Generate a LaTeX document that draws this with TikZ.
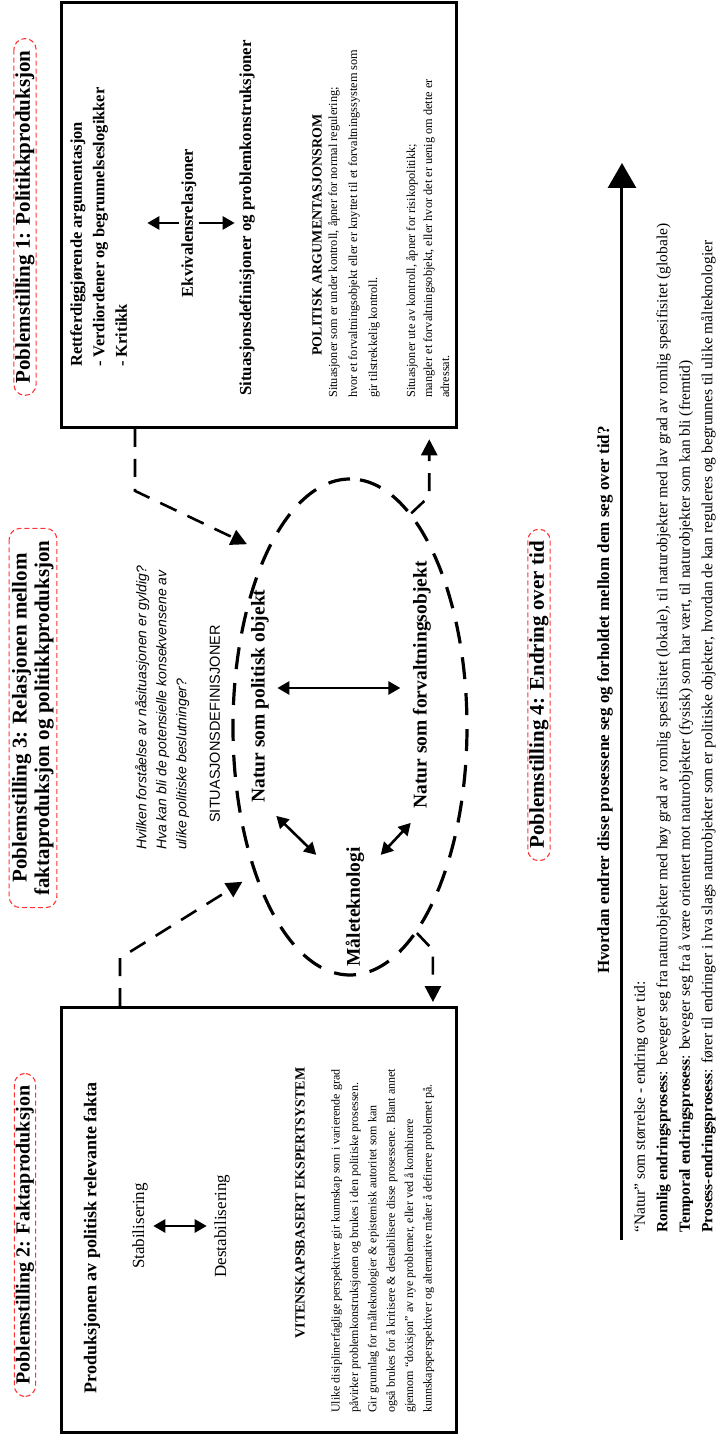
\documentclass[tikz,border=0pt]{standalone}
\usepackage{fontspec}
\setmainfont{Liberation Serif}
\setsansfont{Liberation Sans}
\usetikzlibrary{arrows.meta,shapes.geometric}

\begin{document}
\begin{tikzpicture}[x=1pt, y=1pt, rotate=90, transform shape,
  box/.style={draw, line width=2.8pt, minimum width=425pt, minimum height=395pt},
  lab/.style={draw=red!80!white, dash pattern=on 5pt off 3pt, line width=1.1pt, rounded corners=11pt,
    inner xsep=12pt, inner ysep=1.5pt, font=\bfseries\fontsize{21}{22.5}\selectfont},
  ring/.style={ellipse, draw, line width=3.2pt, dash pattern=on 22pt off 14pt, inner sep=0pt},
  link/.style={line width=2.6pt, dash pattern=on 18pt off 12pt, -{Triangle[length=16pt,width=16pt]}},
  tip/.style={line width=2.6pt, -{Triangle[length=12pt,width=13pt]}},
  dblarrow/.style={line width=2.6pt, {Triangle[length=12pt,width=13pt]}-{Triangle[length=12pt,width=13pt]}},
  txt/.style={font=\fontsize{#1}{#1}\selectfont},
  btxt/.style={font=\bfseries\fontsize{#1}{#1}\selectfont}]
\useasboundingbox (0,0) rectangle (1435,717);

% the two boxes
\node[box] (fakta) at (215,458) {};
\node[box] (pol) at (1220,458) {};

% problem statements
\node[lab] (lab1) at (1218,692) {Poblemstilling 1: Politikkproduksjon};
\node[lab, font=\bfseries\fontsize{20}{22}\selectfont] (lab2) at (200,692) {Poblemstilling 2: Faktaproduksjon};
\node[lab, align=center, inner ysep=3pt] (lab3) at (717,684) {Poblemstilling 3: Relasjonen mellom\\faktaproduksjon og politikkproduksjon};
\node[lab] (lab4) at (740,178) {Poblemstilling 4: Endring over tid};

% faktaproduksjon
\node[btxt=18, anchor=west] (prod) at (38,625) {Produksjonen av politisk relevante fakta};
\node[txt=17] (stab) at (209,577) {Stabilisering};
\node[txt=17] (destab) at (209,495) {Destabilisering};
\draw[dblarrow, shorten <=2pt, shorten >=4pt] (stab) -- (destab);
\node[btxt=14] (vit) at (232,417) {VITENSKAPSBASERT EKSPERTSYSTEM};
\node[anchor=north west, align=left, inner sep=0pt, font=\fontsize{12}{18.4}\selectfont] (fpar) at (22,386)
  {Ulike disiplinerfaglige perspektiver gir kunnskap som i varierende grad\\
   påvirker problemkonstruksjonen og brukes i den politiske prosessen.\\
   Gir grunnlag for målteknologier \& epistemisk autoritet som kan\\
   også brukes for å kritisere \& destabilisere disse prosessene. Blant annet\\
   gjennom ``doxisjon'' av nye problemer, eller ved å kombinere\\
   kunnskapsperspektiver og alternative måter å definere problemet på.};

% politikkproduksjon
\node[anchor=north west, align=left, inner sep=0pt, font=\bfseries\fontsize{16.5}{22.5}\selectfont] (arg) at (1068,647)
  {Rettferdiggjørende argumentasjon\\- Verdiordener og begrunnelseslogikker\\- Kritikk};
\node[btxt=16.5, inner sep=2pt] (ekv) at (1212,528) {Ekvivalensrelasjoner};
\draw[tip] (ekv.north) -- ++(0,32);
\draw[tip] (ekv.south) -- ++(0,-36);
\node[btxt=16.8] (sitdef) at (1217,470) {Situasjonsdefinisjoner og problemkonstruksjoner};
\node[btxt=14] (polarg) at (1200,400) {POLITISK ARGUMENTASJONSROM};
\node[anchor=north west, align=left, inner sep=0pt, font=\fontsize{12.3}{20}\selectfont] (ppar1) at (1037,389)
  {Situasjoner som er under kontroll, åpner for normal regulering;\\
   hvor et forvaltningsobjekt eller er knyttet til et forvaltningssystem som\\
   gir tilstrekkelig kontroll.};
\node[anchor=north west, align=left, inner sep=0pt, font=\fontsize{12.3}{17}\selectfont] (ppar2) at (1037,311)
  {Situasjoner ute av kontroll, åpner for risikopolitikk;\\
   mangler et forvaltningsobjekt, eller hvor det er uenig om dette er\\
   adressat.};

% situasjonsdefinisjoner
\node[ring, minimum width=496pt, minimum height=234pt] (sit) at (708,367) {};
\node[font=\sffamily\fontsize{14.5}{16}\selectfont] (sitd) at (711,502) {SITUASJONSDEFINISJONER};
\node[anchor=north west, align=left, inner sep=0pt, font=\sffamily\itshape\fontsize{14}{20}\selectfont] (qst) at (585,582)
  {Hvilken forståelse av nåsituasjonen er gyldig?\\Hva kan bli de potensielle konsekvensene av\\ulike politiske beslutninger?};
\node[btxt=19.5] (npol) at (739,457) {Natur som politisk objekt};
\node[btxt=19.5] (nforv) at (750,295) {Natur som forvaltningsobjekt};
\node[btxt=19.5] (male) at (528,362) {Måleteknologi};
\draw[dblarrow] (npol.south) ++(8,-5) -- ++(0,-123);
\draw[dblarrow] (male.north east) ++(-11,26) -- ++(39,40);
\draw[dblarrow] (male.south east) ++(-11,-13) -- ++(32,-30);

% dashed links
\draw[link, shorten >=20pt] (pol.west) ++(0,124) -- ++(-62,0) -- (sit.26);
\draw[link, shorten >=14pt] (fakta.east) ++(0,139) -- ++(48,0) -- (sit.147);
\draw[link] (sit.198) -- ++(-17,-16) -- ++(-52,0);
\draw[link] (sit.344) -- ++(17,-18) -- ++(57,0);

% time
\coordinate (t0) at (195,95);
\coordinate (t1) at (1272,95);
\draw[line width=3pt, -{Triangle[length=25pt,width=28pt]}] (t0) -- (t1);
\node[btxt=17] (hv) at (735,112) {Hvordan endrer disse prosessene seg og forholdet mellom dem seg over tid?};
\node[anchor=north west, align=left, inner sep=0pt, font=\fontsize{15.5}{22.5}\selectfont] (liste) at (202,83)
  {“Natur” som størrelse - endring over tid:\\
   \textbf{Romlig endringsprosess}: beveger seg fra naturobjekter med høy grad av romlig spesifisitet (lokale), til naturobjekter med lav grad av romlig spesifisitet (globale)\\
   \textbf{Temporal endringsprosess}: beveger seg fra å være orientert mot naturobjekter (fysisk) som har vært, til naturobjekter som kan bli (fremtid)\\
   \textbf{Prosess-endringsprosess}: fører til endringer i hva slags naturobjekter som er politiske objekter, hvordan de kan reguleres og begrunnes til ulike målteknologier};
\end{tikzpicture}
\end{document}
